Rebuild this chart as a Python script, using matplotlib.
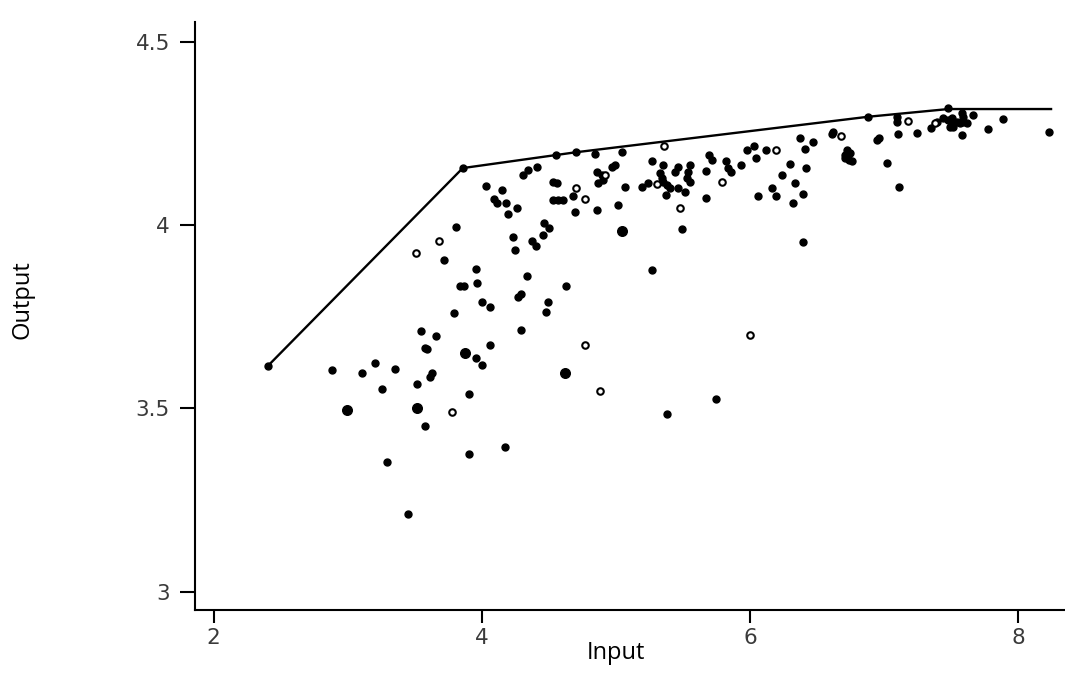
import matplotlib
matplotlib.use("Agg")
import matplotlib.pyplot as plt

# filled dots
x_dots = [4.030, 3.811, 3.716, 3.955, 3.836, 3.866, 3.965, 4.005, 4.843, 5.043,
          4.552, 4.408, 4.308, 4.346, 4.154, 4.090, 4.110, 4.179, 4.263, 4.196,
          4.532, 4.562, 4.681, 4.532, 4.569, 4.607, 4.694, 4.856, 4.856, 4.893,
          4.868, 4.905, 4.968, 4.993, 5.067, 5.017, 4.463, 4.502, 4.453, 4.371,
          4.403, 4.229, 4.246, 4.338, 4.627, 4.289, 4.271, 4.060, 4.495, 5.266,
          5.349, 5.328, 5.341, 5.353, 5.378, 5.403, 5.192, 5.241, 5.373, 5.465,
          5.515, 5.440, 5.465, 5.552, 5.540, 5.528, 5.552, 5.696, 5.714, 5.672,
          5.821, 5.838, 5.856, 5.672, 5.493, 5.931, 5.975, 6.030, 6.045, 6.119,
          6.299, 6.373, 6.410, 6.418, 6.237, 6.336, 6.162, 6.194, 6.062, 6.398,
          6.323, 6.396, 6.472, 6.617, 6.610, 6.722, 6.709, 6.746, 6.741, 6.759,
          6.709, 6.883, 6.965, 6.950, 7.025, 7.114, 7.095, 7.099, 7.107, 7.249,
          7.349, 7.393, 7.480, 7.443, 7.480, 7.505, 7.517, 7.543, 7.567, 7.592,
          7.617, 7.517, 7.493, 7.580, 7.587, 7.667, 7.584, 7.778, 7.886, 8.234,
          4.699, 5.269, 3.793, 3.543, 3.662, 3.575, 3.592, 3.955, 3.998, 4.060,
          3.201, 3.351, 3.110, 2.886, 3.625, 3.612, 3.517, 3.256, 3.905, 3.575,
          3.905, 3.293, 3.453, 4.172, 4.478, 4.296, 5.382, 5.749, 2.403, 3.858]
y_dots = [4.106, 3.994, 3.905, 3.879, 3.834, 3.834, 3.841, 3.789, 4.194, 4.200,
          4.191, 4.159, 4.136, 4.150, 4.095, 4.070, 4.061, 4.061, 4.046, 4.030,
          4.118, 4.114, 4.079, 4.068, 4.068, 4.068, 4.036, 4.041, 4.145, 4.136,
          4.114, 4.123, 4.159, 4.164, 4.104, 4.055, 4.006, 3.991, 3.973, 3.957,
          3.943, 3.968, 3.932, 3.861, 3.834, 3.812, 3.804, 3.776, 3.791, 4.173,
          4.164, 4.141, 4.127, 4.118, 4.109, 4.100, 4.103, 4.115, 4.082, 4.100,
          4.091, 4.145, 4.159, 4.164, 4.145, 4.127, 4.118, 4.191, 4.177, 4.148,
          4.173, 4.155, 4.143, 4.073, 3.989, 4.164, 4.203, 4.214, 4.182, 4.205,
          4.166, 4.236, 4.206, 4.155, 4.136, 4.114, 4.100, 4.079, 4.079, 4.085,
          4.059, 3.954, 4.227, 4.254, 4.247, 4.205, 4.191, 4.196, 4.177, 4.173,
          4.182, 4.295, 4.236, 4.232, 4.168, 4.104, 4.295, 4.282, 4.248, 4.252,
          4.264, 4.282, 4.318, 4.291, 4.286, 4.291, 4.277, 4.282, 4.277, 4.282,
          4.279, 4.268, 4.268, 4.305, 4.295, 4.300, 4.245, 4.261, 4.288, 4.254,
          4.198, 3.877, 3.759, 3.712, 3.697, 3.664, 3.661, 3.636, 3.618, 3.673,
          3.624, 3.607, 3.597, 3.605, 3.597, 3.585, 3.566, 3.552, 3.539, 3.452,
          3.376, 3.353, 3.211, 3.395, 3.762, 3.714, 3.485, 3.526, 3.615, 4.155]

# larger dots
x_big = [5.043, 3.873, 2.995, 3.517, 4.619]
y_big = [3.984, 3.650, 3.496, 3.500, 3.596]

# hollow markers
x_open = [3.679, 3.507, 4.701, 4.769, 4.918, 5.358, 5.304, 5.789, 5.478, 6.194,
          6.677, 7.181, 7.381, 3.781, 4.770, 4.878, 5.999]
y_open = [3.957, 3.924, 4.100, 4.070, 4.136, 4.214, 4.112, 4.116, 4.046, 4.203,
          4.243, 4.284, 4.277, 3.491, 3.672, 3.547, 3.699]

# frontier
front_x = [2.403, 3.858, 4.699, 6.883, 7.480, 8.246]
front_y = [3.615, 4.155, 4.198, 4.295, 4.316, 4.316]

x_ticks = [2, 4, 6, 8]
y_ticks = [3, 3.5, 4, 4.5]
y_ticklabels = ["3", "3.5", "4", "4.5"]

fig = plt.figure(figsize=(10.65, 6.8), dpi=100)
ax = fig.add_axes([0.183, 0.103, 0.817, 0.865])

ax.plot(front_x, front_y, color="black", lw=1.7, zorder=2)
ax.scatter(x_dots, y_dots, s=25, color="black", zorder=3)
ax.scatter(x_big, y_big, s=48, color="black", zorder=3)
ax.scatter(x_open, y_open, s=22, facecolor="white", edgecolor="black",
           linewidth=1.5, zorder=3)

ax.set_xlim(1.86, 8.35)
ax.set_ylim(2.95, 4.554)
ax.set_xticks(x_ticks)
ax.set_yticks(y_ticks)
ax.set_yticklabels(y_ticklabels)

for s in ["top", "right"]:
    ax.spines[s].set_visible(False)
for s in ["left", "bottom"]:
    ax.spines[s].set_linewidth(1.5)

ax.tick_params(axis="y", length=11, width=1.5, pad=7, labelsize=15.5,
               labelcolor="#3a3a3a")
ax.tick_params(axis="x", length=9, width=1.5, pad=4, labelsize=15.5,
               labelcolor="#3a3a3a")

fig.text(0.578, 0.022, "Input", family="Open Sans", fontsize=17,
         ha="center", va="bottom")
fig.text(0.021, 0.56, "Output", family="Open Sans", fontsize=17,
         rotation=90, ha="center", va="center")

fig.savefig("out.png", dpi=100)
